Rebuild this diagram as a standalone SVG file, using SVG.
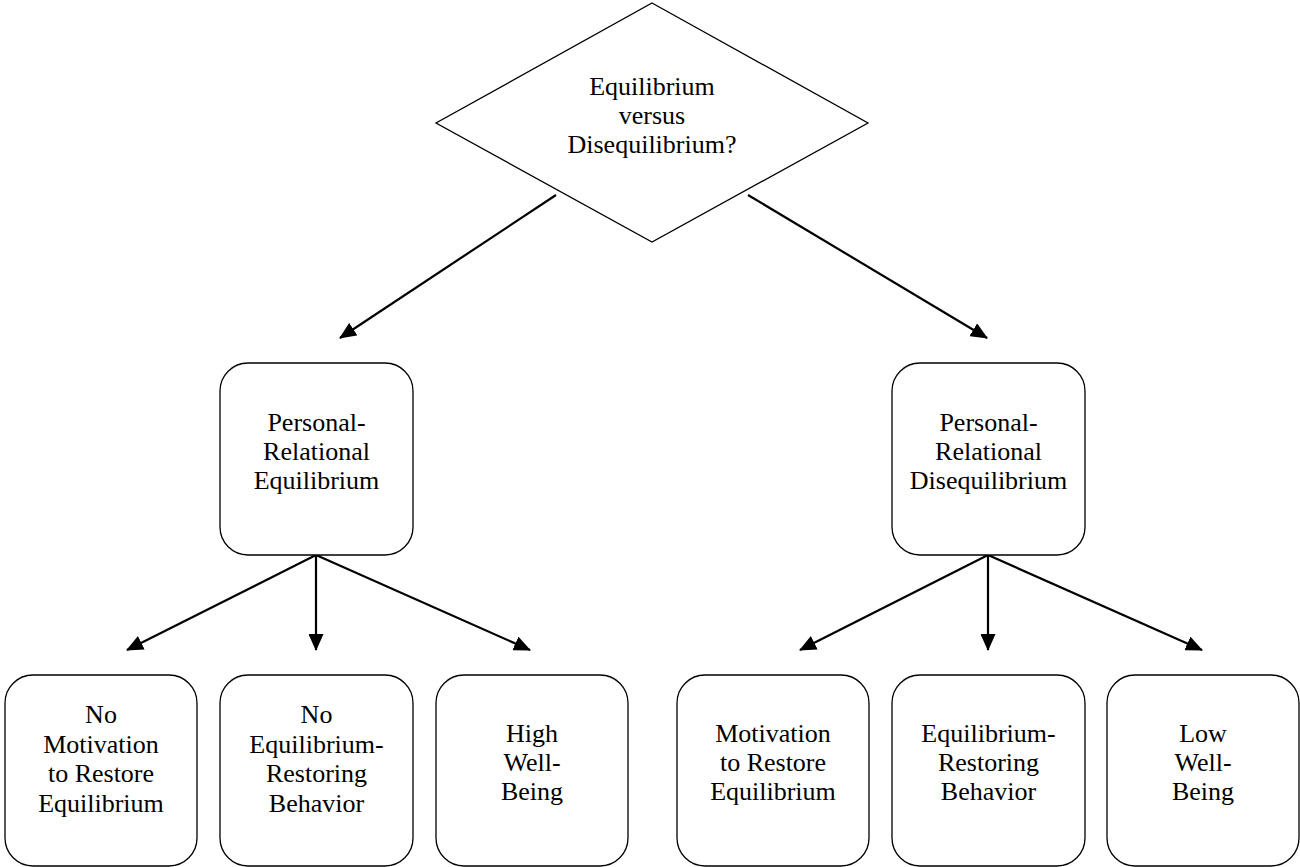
<svg xmlns="http://www.w3.org/2000/svg" width="1300" height="867" viewBox="0 0 1300 867">
<style>
.box{fill:#fff;stroke:#000;stroke-width:1.3}
.dia{fill:#fff;stroke:#000;stroke-width:1.3}
.t{font-family:"Liberation Serif","Times New Roman",serif;font-size:26px;fill:#000;text-anchor:middle}
.arr{stroke:#000;stroke-width:2.2;fill:none;marker-end:url(#ah)}
</style>
<defs>
<marker id="ah" markerUnits="userSpaceOnUse" markerWidth="17" markerHeight="15" viewBox="0 0 17 15" refX="16" refY="7.5" orient="auto">
<path d="M0,0 L17,7.5 L0,15 z" fill="#000"/>
</marker>
</defs>
<rect width="1300" height="867" fill="#fff"/>
<g id="connectors">
<line class="arr" x1="556" y1="195" x2="340" y2="338"/>
<line class="arr" x1="748" y1="195" x2="987" y2="338"/>
<line class="arr" x1="316" y1="555" x2="127" y2="650"/>
<line class="arr" x1="316" y1="555" x2="316" y2="650"/>
<line class="arr" x1="316" y1="555" x2="530" y2="650"/>
<line class="arr" x1="988" y1="555" x2="800" y2="650"/>
<line class="arr" x1="988" y1="555" x2="988" y2="650"/>
<line class="arr" x1="988" y1="555" x2="1202" y2="650"/>
</g>
<g id="decision">
<polygon class="dia" points="652,3 868,123 652,242 436,123"/>
<text class="t" x="652" y="95">Equilibrium</text>
<text class="t" x="652" y="124">versus</text>
<text class="t" x="652" y="153">Disequilibrium?</text>
</g>
<g id="equilibrium">
<rect class="box" x="220" y="363" width="193" height="192" rx="28" ry="28"/>
<text class="t" x="316.5" y="431">Personal-</text>
<text class="t" x="316.5" y="460">Relational</text>
<text class="t" x="316.5" y="489">Equilibrium</text>
</g>
<g id="disequilibrium">
<rect class="box" x="892" y="363" width="193" height="192" rx="28" ry="28"/>
<text class="t" x="988.5" y="431">Personal-</text>
<text class="t" x="988.5" y="460">Relational</text>
<text class="t" x="988.5" y="489">Disequilibrium</text>
</g>
<g id="no-motivation">
<rect class="box" x="5" y="675" width="192" height="191" rx="28" ry="28"/>
<text class="t" x="101" y="723">No</text>
<text class="t" x="101" y="753">Motivation</text>
<text class="t" x="101" y="782">to Restore</text>
<text class="t" x="101" y="812">Equilibrium</text>
</g>
<g id="no-behavior">
<rect class="box" x="220" y="675" width="193" height="191" rx="28" ry="28"/>
<text class="t" x="316.5" y="723">No</text>
<text class="t" x="316.5" y="753">Equilibrium-</text>
<text class="t" x="316.5" y="782">Restoring</text>
<text class="t" x="316.5" y="812">Behavior</text>
</g>
<g id="high-wellbeing">
<rect class="box" x="436" y="675" width="192" height="191" rx="28" ry="28"/>
<text class="t" x="532" y="742">High</text>
<text class="t" x="532" y="771">Well-</text>
<text class="t" x="532" y="800">Being</text>
</g>
<g id="motivation">
<rect class="box" x="677" y="675" width="192" height="191" rx="28" ry="28"/>
<text class="t" x="773" y="742">Motivation</text>
<text class="t" x="773" y="771">to Restore</text>
<text class="t" x="773" y="800">Equilibrium</text>
</g>
<g id="behavior">
<rect class="box" x="892" y="675" width="193" height="191" rx="28" ry="28"/>
<text class="t" x="988.5" y="742">Equilibrium-</text>
<text class="t" x="988.5" y="771">Restoring</text>
<text class="t" x="988.5" y="800">Behavior</text>
</g>
<g id="low-wellbeing">
<rect class="box" x="1107" y="675" width="192" height="191" rx="28" ry="28"/>
<text class="t" x="1203" y="742">Low</text>
<text class="t" x="1203" y="771">Well-</text>
<text class="t" x="1203" y="800">Being</text>
</g>
</svg>
